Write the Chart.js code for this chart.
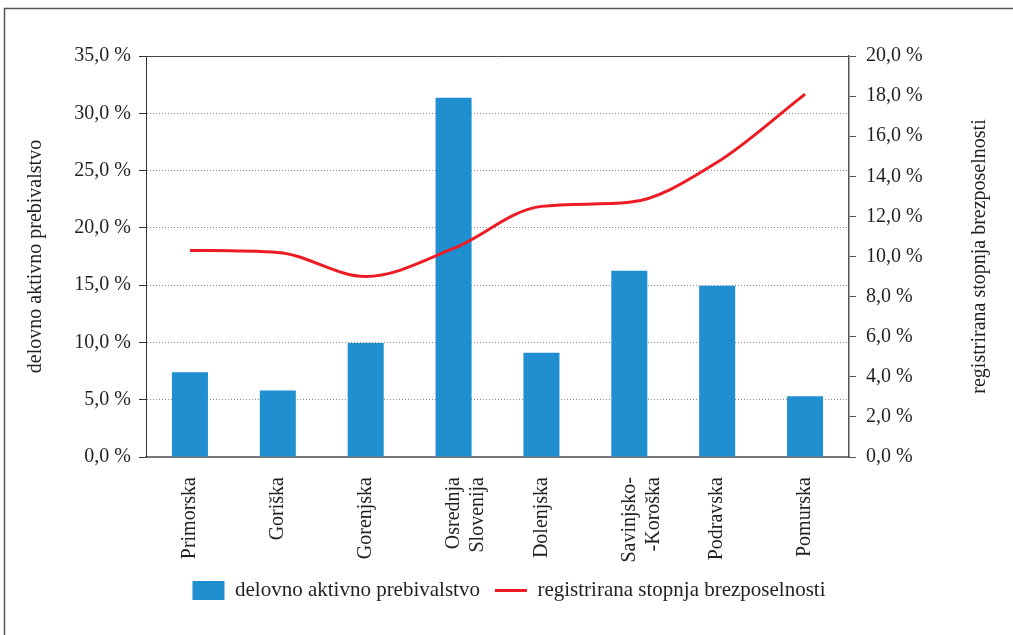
<!DOCTYPE html>
<html>
<head>
<meta charset="utf-8">
<script src="https://cdn.jsdelivr.net/npm/chart.js@4"></script>
<style>
  html, body { margin: 0; padding: 0; background: #fff; }
  #wrap { width: 1013px; height: 635px; position: relative; }
</style>
</head>
<body>
<div id="wrap"><canvas id="regijeChart" width="1013" height="635"></canvas></div>
<script>
var regije = ['Primorska', 'Goriška', 'Gorenjska', ['Osrednja', 'Slovenija'], 'Dolenjska', ['Savinjsko-', '-Koroška'], 'Podravska', 'Pomurska'];
var aktivnoPrebivalstvo = [7.4, 5.8, 9.95, 31.35, 9.1, 16.25, 14.95, 5.3]; // levo, v %
var stopnjaBrezposelnosti = [10.3, 10.2, 9.0, 10.4, 12.5, 12.7, 14.7, 18.1]; // desno, v %
var naslovDesno = 'registrirana stopnja brezposelnosti';

var textColor = '#231f20';
var fontFamily = '"Liberation Serif", "DejaVu Serif", serif';

function procent(v) {
    return v.toFixed(1).replace('.', ',') + ' %';
}

// okvir slike, zgornja črta ploskve in desni naslov (branje od spodaj navzgor)
var okvir = {
    id: 'okvir',
    beforeDraw: function (chart) {
        var c = chart.ctx;
        c.save();
        c.strokeStyle = '#555';
        c.lineWidth = 1.5;
        c.beginPath();
        c.moveTo(1013, 8.5);
        c.lineTo(4.5, 8.5);
        c.lineTo(4.5, 635);
        c.stroke();
        c.restore();
    },
    afterDatasetsDraw: function (chart) {
        var a = chart.chartArea;
        var c = chart.ctx;
        c.save();
        c.strokeStyle = '#444';
        c.lineWidth = 1;
        c.beginPath();
        c.moveTo(a.left, a.top + 0.5);
        c.lineTo(a.right, a.top + 0.5);
        c.stroke();

        var s = chart.scales.y1;
        c.translate(s.right - 18, (a.top + a.bottom) / 2);
        c.rotate(-Math.PI / 2);
        c.fillStyle = textColor;
        c.font = '20px ' + fontFamily;
        c.textAlign = 'center';
        c.textBaseline = 'middle';
        c.fillText(naslovDesno, 0, 0);
        c.restore();
    }
};

var ctx = document.getElementById('regijeChart').getContext('2d');
var regijeChart = new Chart(ctx, {
    type: 'bar',
    data: {
        labels: regije,
        datasets: [{
            type: 'line',
            label: naslovDesno,
            data: stopnjaBrezposelnosti,
            yAxisID: 'y1',
            borderColor: '#ed1c24',
            backgroundColor: '#ed1c24',
            borderWidth: 3,
            cubicInterpolationMode: 'monotone',
            pointRadius: 0,
            pointStyle: 'line',
            order: 1
        }, {
            label: 'delovno aktivno prebivalstvo',
            data: aktivnoPrebivalstvo,
            yAxisID: 'y',
            backgroundColor: '#1f8fd0',
            barPercentage: 0.41,
            categoryPercentage: 1,
            pointStyle: 'rect',
            order: 2
        }]
    },
    options: {
        responsive: false,
        animation: false,
        layout: { padding: { top: 56, left: 20, right: 15, bottom: 24 } },
        plugins: {
            legend: {
                position: 'bottom',
                reverse: true,
                labels: {
                    usePointStyle: true,
                    pointStyleWidth: 32,
                    boxHeight: 19,
                    padding: 15,
                    color: textColor,
                    font: { family: fontFamily, size: 21 }
                }
            },
            tooltip: { enabled: false }
        },
        scales: {
            x: {
                grid: { display: false },
                border: { color: '#777', width: 2 },
                ticks: {
                    maxRotation: 90,
                    minRotation: 90,
                    padding: 12,
                    color: textColor,
                    font: { family: fontFamily, size: 20 }
                },
                afterFit: function (s) { s.height = 108; s.paddingLeft = 0; s.paddingRight = 0; }
            },
            y: {
                position: 'left',
                min: 0,
                max: 35,
                ticks: {
                    stepSize: 5,
                    padding: 8,
                    color: textColor,
                    font: { family: fontFamily, size: 20 },
                    callback: function (v) { return procent(v); }
                },
                grid: {
                    color: function (c) { return (c.tick.value === 0 || c.tick.value === 35) ? 'rgba(0,0,0,0)' : '#8a8a8a'; },
                    tickColor: '#333',
                    tickLength: 7
                },
                border: { color: '#333', width: 1, dash: [1, 2] },
                title: {
                    display: true,
                    text: 'delovno aktivno prebivalstvo',
                    color: textColor,
                    font: { family: fontFamily, size: 20 }
                },
                afterFit: function (s) { s.width = 126; s.paddingTop = 0; s.paddingBottom = 0; }
            },
            y1: {
                position: 'right',
                min: 0,
                max: 20,
                ticks: {
                    stepSize: 2,
                    padding: 10,
                    color: textColor,
                    font: { family: fontFamily, size: 20 },
                    callback: function (v) { return procent(v); }
                },
                grid: {
                    drawOnChartArea: false,
                    tickColor: '#555',
                    tickLength: 7
                },
                border: { color: '#555', width: 1.5 },
                afterFit: function (s) { s.width = 149; s.paddingTop = 0; s.paddingBottom = 0; }
            }
        }
    },
    plugins: [okvir]
});
</script>
</body>
</html>
